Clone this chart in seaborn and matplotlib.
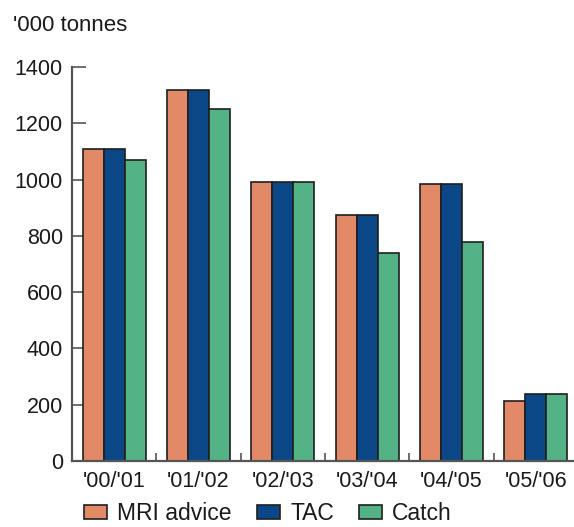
import matplotlib
matplotlib.use("Agg")
import matplotlib.pyplot as plt
import seaborn as sns
import pandas as pd

seasons = ["'00/'01", "'01/'02", "'02/'03", "'03/'04", "'04/'05", "'05/'06"]
mri_advice = [1110, 1320, 990, 875, 985, 213]
tac = [1110, 1320, 990, 875, 985, 238]
catch = [1070, 1250, 990, 740, 778, 238]
series_names = ["MRI advice", "TAC", "Catch"]
y_ticks = [0, 200, 400, 600, 800, 1000, 1200, 1400]

colors = ["#E28A67", "#0B4787", "#54B386"]

df = pd.DataFrame({
    "season": seasons * 3,
    "value": mri_advice + tac + catch,
    "series": [s for s in series_names for _ in seasons],
})

sns.set_theme(style="white")
plt.rcParams["font.family"] = ["Liberation Sans", "DejaVu Sans"]

W, H = 574, 527
fig = plt.figure(figsize=(W / 100, H / 100), dpi=100)
ax = fig.add_axes([72 / W, 66 / H, 506 / W, 394 / H])

sns.barplot(data=df, x="season", y="value", hue="series", order=seasons,
            hue_order=series_names, palette=colors, width=0.75,
            edgecolor="#1f1f1f", linewidth=1.2, saturation=1, ax=ax)

handles, labels = ax.get_legend_handles_labels()
if ax.get_legend() is not None:
    ax.get_legend().remove()

ax.set_xlim(-0.5, 5.5)
ax.set_ylim(0, 1400)
ax.set_yticks(y_ticks)
ax.set_xlabel("")
ax.set_ylabel("")

for side in ["top", "right"]:
    ax.spines[side].set_visible(False)
for side in ["left", "bottom"]:
    ax.spines[side].set_color("#555555")
    ax.spines[side].set_linewidth(1.6)

fs = 15.5
ax.tick_params(axis="y", direction="in", length=10, width=1.2, color="#555555",
               pad=6.5, labelsize=fs, labelcolor="#1a1a1a", left=True)
ax.set_xticks([i + 0.5 for i in range(len(seasons) - 1)], minor=True)
ax.tick_params(axis="x", which="minor", direction="in", length=6, width=1.2,
               color="#555555", bottom=True)
ax.tick_params(axis="x", which="major", length=0, pad=7, labelsize=fs,
               labelcolor="#1a1a1a")

fig.text(13 / W, 1 - 31 / H, "'000 tonnes", fontsize=16, color="#1a1a1a",
         va="baseline", ha="left")

fig.legend(handles, labels, loc="lower left", bbox_to_anchor=(84 / W, 0.004),
           ncol=3, frameon=False, fontsize=16.5, borderpad=0, borderaxespad=0,
           handlelength=1.0, handleheight=0.6, handletextpad=0.45,
           columnspacing=1.1, labelcolor="#1a1a1a")

fig.savefig("out.png", dpi=100)
